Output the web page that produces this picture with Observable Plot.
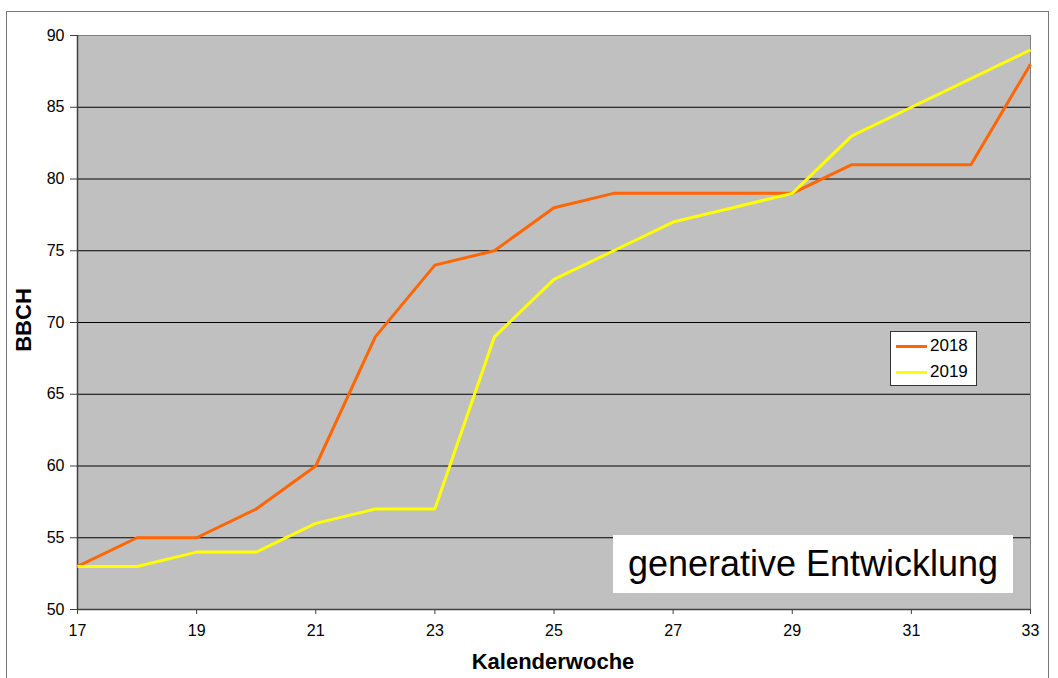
<!DOCTYPE html>
<html>
<head>
<meta charset="utf-8">
<script src="https://cdn.jsdelivr.net/npm/d3@7"></script>
<script src="https://cdn.jsdelivr.net/npm/@observablehq/plot@0.6"></script>
<style>
  html, body { margin: 0; padding: 0; background: #fff; }
  body { width: 1058px; height: 678px; position: relative; overflow: hidden; font-family: "Liberation Sans", Arial, sans-serif; }
  #border { position: absolute; left: 6px; top: 11px; width: 1043px; height: 700px; border: 1px solid #777; box-sizing: border-box; }
  #chart { position: absolute; left: 0; top: 0; }
  .ylab { position: absolute; left: 24px; top: 320px; transform: translate(-50%, -50%) rotate(-90deg); font-weight: bold; font-size: 22px; color: #000; white-space: nowrap; }
  .xlab { position: absolute; left: 553px; top: 662px; transform: translate(-50%, -50%); font-weight: bold; font-size: 22px; color: #000; white-space: nowrap; }
  #legend { position: absolute; left: 890px; top: 331px; width: 87px; height: 55px; background: #fff; border: 1px solid #333; box-sizing: border-box; }
  .lg { position: absolute; left: 5px; font-size: 17px; color: #000; display: flex; align-items: center; }
  .lg span.sw { display: inline-block; width: 31px; height: 3px; margin-right: 3px; }
  #note { position: absolute; left: 613px; top: 535px; width: 400px; height: 58px; background: #fff; display: flex; align-items: center; justify-content: center; font-size: 36px; color: #000; white-space: nowrap; }
</style>
</head>
<body>
<div id="border"></div>
<div id="chart"></div>
<div class="ylab">BBCH</div>
<div class="xlab">Kalenderwoche</div>
<div id="legend"></div>
<div id="note">generative Entwicklung</div>
<script>
const weeks = [17,18,19,20,21,22,23,24,25,26,27,28,29,30,31,32,33];
const bbch2018 = [53,55,55,57,60,69,74,75,78,79,79,79,79,81,81,81,88];
const bbch2019 = [53,53,54,54,56,57,57,69,73,75,77,78,79,83,85,87,89];
const seriesNames = ["2018", "2019"];
const seriesColors = ["#ff6600", "#ffff00"];
const xTicks = [17,19,21,23,25,27,29,31,33];
const yTicks = [50,55,60,65,70,75,80,85,90];

const rows = [];
[bbch2018, bbch2019].forEach((vals, si) => {
  vals.forEach((v, i) => rows.push({week: weeks[i], bbch: v, series: seriesNames[si]}));
});

const plot = Plot.plot({
  width: 1058,
  height: 678,
  marginLeft: 77,
  marginRight: 28,
  marginTop: 35,
  marginBottom: 69,
  style: { fontFamily: '"Liberation Sans", Arial, sans-serif', fontSize: "16px", color: "#000", background: "transparent", overflow: "visible" },
  x: { domain: [17, 33], ticks: xTicks, tickSize: 5, tickPadding: 10, label: null },
  y: { domain: [50, 90], ticks: yTicks, tickSize: 7, tickPadding: 7, label: null },
  color: { domain: seriesNames, range: seriesColors },
  marks: [
    Plot.frame({ fill: "#c0c0c0", stroke: "#808080" }),
    Plot.ruleY(yTicks.filter(d => d > 50 && d < 90), { stroke: "#000", strokeWidth: 1 }),
    Plot.ruleY([90], { stroke: "#808080", strokeWidth: 1 }),
    Plot.ruleX([17], { stroke: "#404040", strokeWidth: 1.5 }),
    Plot.ruleY([50], { stroke: "#404040", strokeWidth: 1.5 }),
    Plot.axisX({ ticks: xTicks, tickSize: 5, tickPadding: 10, stroke: "#404040", fontSize: 16 }),
    Plot.axisY({ ticks: yTicks, tickSize: 7, tickPadding: 6, stroke: "#404040", fontSize: 16 }),
    Plot.line(rows, { x: "week", y: "bbch", stroke: "series", z: "series", strokeWidth: 3, strokeLinejoin: "miter", strokeLinecap: "butt" })
  ]
});
document.getElementById("chart").appendChild(plot);

const legend = document.getElementById("legend");
seriesNames.forEach((name, i) => {
  const d = document.createElement("div");
  d.className = "lg";
  d.style.top = (4 + i * 26) + "px";
  d.innerHTML = `<span class="sw" style="background:${seriesColors[i]}"></span><span>${name}</span>`;
  legend.appendChild(d);
});
</script>
</body>
</html>
